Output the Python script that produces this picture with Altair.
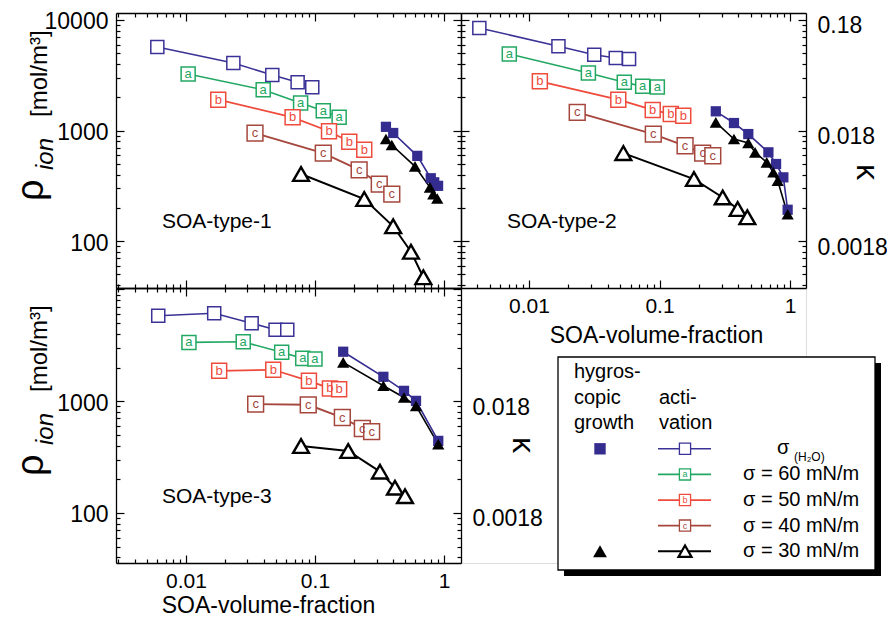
import altair as alt
import pandas as pd

FONT = "Liberation Sans"
W, H = 345, 275          # size of one panel

# ---------------- series definitions ----------------
SERIES = ["σ(H2O)", "σ = 60 mN/m", "σ = 50 mN/m", "σ = 40 mN/m", "σ = 30 mN/m"]
LETTERS = ["", "a", "b", "c", ""]
COLORS = ["#3a3296", "#22a862", "#ef4b3c", "#a5473d", "#000000"]
LINE_WIDTHS = [1.5, 2.0, 1.1, 1.1, 2.0]
OPEN_SIZES = [170, 250, 250, 250]
HYG_KINDS = ["square", "triangle-up"]
HYG_COLORS = ["#352c90", "#000000"]
PANEL_NAMES = ["SOA-type-1", "SOA-type-2", "SOA-type-3"]

# ---------------- data ----------------
# SOA-type-1 (activation, one list per sigma series)
T1_X = [
    [0.0060, 0.0233, 0.0467, 0.0734, 0.0953],
    [0.0104, 0.0397, 0.0774, 0.116, 0.154],
    [0.0178, 0.0671, 0.1285, 0.1845, 0.241],
    [0.0343, 0.116, 0.220, 0.315, 0.394],
    [0.078, 0.241, 0.404, 0.555, 0.692],
]
T1_Y = [
    [5700, 4080, 3180, 2730, 2460],
    [3245, 2340, 1775, 1510, 1316],
    [1900, 1316, 984, 793, 670],
    [949, 625, 441, 328, 266],
    [404, 240, 136, 80, 47],
]
T1_HSQ_X = [0.355, 0.404, 0.621, 0.79, 0.84, 0.90]
T1_HSQ_Y = [1080, 950, 590, 370, 340, 316]
T1_HTR_X = [0.355, 0.394, 0.596, 0.778, 0.826, 0.887]
T1_HTR_Y = [837, 740, 474, 306, 266, 243]

# SOA-type-2
T2_X = [
    [0.00416, 0.0168, 0.0316, 0.0462, 0.0584],
    [0.00706, 0.0285, 0.0537, 0.0743, 0.0962],
    [0.0121, 0.0483, 0.0887, 0.122, 0.152],
    [0.0234, 0.0896, 0.157, 0.214, 0.256],
    [0.0528, 0.1836, 0.305, 0.397, 0.471],
]
T2_Y = [
    [8470, 5780, 4850, 4530, 4440],
    [4920, 3310, 2730, 2510, 2475],
    [2790, 1900, 1535, 1410, 1360],
    [1462, 929, 728, 625, 591],
    [625, 364, 248, 195, 164],
]
T2_HSQ_X = [0.270, 0.372, 0.479, 0.683, 0.782, 0.889, 0.959]
T2_HSQ_Y = [1492, 1169, 929, 635, 498, 377, 192]
T2_HTR_X = [0.270, 0.372, 0.479, 0.540, 0.663, 0.745, 0.805, 0.959]
T2_HTR_Y = [1186, 837, 771, 635, 515, 419, 351, 175]

# SOA-type-3
T3_X = [
    [0.0061, 0.01656, 0.0323, 0.0495, 0.0610],
    [0.01055, 0.0278, 0.0552, 0.0804, 0.100],
    [0.0181, 0.0475, 0.0898, 0.1306, 0.154],
    [0.0347, 0.0887, 0.163, 0.233, 0.275],
    [0.078, 0.181, 0.319, 0.417, 0.499],
]
T3_Y = [
    [5820, 6120, 4980, 4360, 4360],
    [3355, 3400, 2735, 2415, 2380],
    [1870, 1910, 1520, 1300, 1280],
    [940, 928, 714, 569, 534],
    [397, 358, 234, 168, 141],
]
T3_HSQ_X = [0.1655, 0.339, 0.490, 0.607, 0.903]
T3_HSQ_Y = [2770, 1652, 1237, 1006, 441]
T3_HTR_X = [0.1655, 0.339, 0.490, 0.607, 0.903]
T3_HTR_Y = [2223, 1372, 1079, 907, 411]

# axes
X_DOMAIN_A = [0.00287, 1.355]
X_DOMAIN_B = [0.00301, 1.326]
Y_DOMAIN_A = [37.6, 11570]
Y_DOMAIN_B = [35.6, 10300]
RHO_LABELS_TOP = [100, 1000, 10000]
RHO_LABELS_BOTTOM = [100, 1000]
KAPPA_PER_RHO = 1.8e-5

# legend texts
HEAD_HYG = ["hygros-", "copic", "growth"]
HEAD_ACT = ["acti-", "vation"]

# ---------------- helpers ----------------
color_scale = alt.Scale(domain=SERIES, range=COLORS)
width_scale = alt.Scale(domain=SERIES, range=LINE_WIDTHS)
size_scale = alt.Scale(domain=SERIES[:4], range=OPEN_SIZES)
hyg_color_scale = alt.Scale(domain=HYG_KINDS, range=HYG_COLORS)

MAJ = alt.ExprRef(expr="-8")
MIN = alt.ExprRef(expr="-4")


def log_ticks(lo, hi):
    majors, minors = [], []
    for e in range(-4, 6):
        for m in range(1, 10):
            v = float(f"{m * 10.0 ** e:.6g}")
            if lo <= v <= hi:
                (majors if m == 1 else minors).append(v)
    return majors, minors


def tick_axis(orient, values, size, offset, domain=False, label_expr=None, pad=0, title=None,
              font_size=23, **extra):
    kw = dict(orient=orient, values=values, tickSize=size, tickColor="black",
              tickWidth=1.2, domain=domain, grid=False, ticks=True, title=title,
              offset=alt.ExprRef(expr=str(offset)))
    if domain:
        kw.update(domainColor="black", domainWidth=1.3)
    if label_expr is None:
        kw["labels"] = False
    else:
        kw.update(labels=True, labelExpr=label_expr, labelPadding=pad, labelFont=FONT,
                  labelFontSize=font_size, labelColor="black", labelOverlap=False, labelFlush=False)
    kw.update(extra)
    return alt.Axis(**kw)


def text_layer(txt, x, y, **mk):
    return alt.Chart(alt.Data(values=[{"t": txt}])).mark_text(font=FONT, color="black", **mk).encode(
        text="t:N", x=alt.value(x), y=alt.value(y))


def panel(idx, xs_list, ys_list, hsq_x, hsq_y, htr_x, htr_y, xdom, ydom,
          left_labels=None, bottom_title=None, right_labels=None):
    col, row = idx % 2, idx // 2
    ox, oy = col * W, row * H
    rows = []
    for s, name in enumerate(SERIES):
        for xv, yv in zip(xs_list[s], ys_list[s]):
            rows.append({"x": xv, "y": yv, "series": name, "lab": LETTERS[s]})
    df = pd.DataFrame(rows)
    hrows = [{"x": a, "y": b, "kind": HYG_KINDS[0]} for a, b in zip(hsq_x, hsq_y)]
    hrows += [{"x": a, "y": b, "kind": HYG_KINDS[1]} for a, b in zip(htr_x, htr_y)]
    hdf = pd.DataFrame(hrows)

    xs = alt.Scale(type="log", domain=xdom, range=[ox, ox + W], nice=False)
    ys = alt.Scale(type="log", domain=ydom, range=[oy + H, oy], nice=False)
    X = alt.X("x:Q", scale=xs, axis=None)
    Y = alt.Y("y:Q", scale=ys, axis=None)

    base = alt.Chart(df)
    lines = base.mark_line().encode(
        x=X, y=Y, detail="series:N",
        color=alt.Color("series:N", scale=color_scale, legend=None),
        strokeWidth=alt.StrokeWidth("series:N", scale=width_scale, legend=None))
    squares = base.transform_filter(alt.FieldOneOfPredicate(field="series", oneOf=SERIES[:4])).mark_point(
        shape="square", fill="white", fillOpacity=1, opacity=1, strokeWidth=1.5).encode(
        x=X, y=Y,
        stroke=alt.Stroke("series:N", scale=color_scale, legend=None),
        size=alt.Size("series:N", scale=size_scale, legend=None))
    letters = base.transform_filter("datum.lab != ''").mark_text(font=FONT, fontSize=13, baseline="middle").encode(
        x=X, y=Y, text="lab:N",
        color=alt.Color("series:N", scale=color_scale, legend=None))
    tris = base.transform_filter(alt.FieldEqualPredicate(field="series", equal=SERIES[4])).mark_point(
        shape="triangle-up", fill="white", fillOpacity=1, opacity=1, stroke="black",
        strokeWidth=2.4, size=250).encode(x=X, y=Y)

    hbase = alt.Chart(hdf)
    hlines = hbase.mark_line(strokeWidth=1.6).encode(
        x=X, y=Y, detail="kind:N",
        color=alt.Color("kind:N", scale=hyg_color_scale, legend=None))
    hpts = hbase.mark_point(filled=True, opacity=1).encode(
        x=X, y=Y,
        shape=alt.Shape("kind:N", scale=alt.Scale(domain=HYG_KINDS, range=HYG_KINDS), legend=None),
        color=alt.Color("kind:N", scale=hyg_color_scale, legend=None),
        size=alt.Size("kind:N", scale=alt.Scale(domain=HYG_KINDS, range=[105, 150]), legend=None))

    layers = [lines, hlines, squares, letters, tris, hpts,
              text_layer(PANEL_NAMES[idx], ox + 46, oy + 209, fontSize=21, align="left", baseline="middle")]

    # axes (inward ticks, major + minor on every side)
    xmaj, xmin = log_ticks(*xdom)
    ymaj, ymin = log_ticks(*ydom)
    anchor = alt.Chart(df).mark_point(opacity=0)

    def ya(axis):
        return anchor.encode(x=X, y=alt.Y("y:Q", scale=ys, axis=axis))

    def xa(axis):
        return anchor.encode(y=Y, x=alt.X("x:Q", scale=xs, axis=axis))

    off_l, off_r = -ox, -(W - ox)
    off_t, off_b = -oy, -(H - oy)
    if left_labels:
        lexpr = f"indexof({left_labels}, datum.value) >= 0 ? format(datum.value, 'd') : ''"
        layers.append(ya(tick_axis("left", ymaj, MAJ, off_l, True, lexpr, pad=16, labelOffset=2)))
    else:
        layers.append(ya(tick_axis("left", ymaj, MAJ, off_l, True)))
    layers.append(ya(tick_axis("left", ymin, MIN, off_l)))
    if right_labels:
        rexpr = (f"indexof({right_labels}, datum.value) >= 0 ? "
                 f"format(datum.value * {KAPPA_PER_RHO}, '~g') : ''")
        layers.append(ya(tick_axis("right", ymaj, MAJ, off_r, True, rexpr, pad=19, labelOffset=6)))
    else:
        layers.append(ya(tick_axis("right", ymaj, MAJ, off_r, True)))
    layers.append(ya(tick_axis("right", ymin, MIN, off_r)))
    layers.append(xa(tick_axis("top", xmaj, MAJ, off_t, True)))
    layers.append(xa(tick_axis("top", xmin, MIN, off_t)))
    if bottom_title:
        bexpr = "format(datum.value, '~g')"
        tx, ty = bottom_title
        layers.append(xa(tick_axis(
            "bottom", xmaj, MAJ, off_b, True, bexpr, pad=15, title="SOA-volume-fraction",
            font_size=21,
            titleX=tx, titleY=ty, titleAlign="center", titleBaseline="alphabetic",
            titleFont=FONT, titleFontSize=23, titleFontWeight="normal", titleColor="black")))
    else:
        layers.append(xa(tick_axis("bottom", xmaj, MAJ, off_b, True)))
    layers.append(xa(tick_axis("bottom", xmin, MIN, off_b)))
    return layers


def rho_title(oy):
    return [
        text_layer("ρ", -73, oy + 188, fontSize=38, angle=270, align="left", baseline="alphabetic"),
        text_layer("ion", -63, oy + 157, fontSize=24, fontStyle="italic", angle=270,
                   align="left", baseline="alphabetic"),
        text_layer("[mol/m³]", -69, oy + 104, fontSize=24, angle=270, align="left",
                   baseline="alphabetic"),
    ]


def kappa_title(x, y):
    return [text_layer("κ", x, y, fontSize=32, angle=90, align="center", baseline="middle")]


layers = []
layers += panel(0, T1_X, T1_Y, T1_HSQ_X, T1_HSQ_Y, T1_HTR_X, T1_HTR_Y, X_DOMAIN_A, Y_DOMAIN_A,
                left_labels=RHO_LABELS_TOP)
layers += panel(1, T2_X, T2_Y, T2_HSQ_X, T2_HSQ_Y, T2_HTR_X, T2_HTR_Y, X_DOMAIN_B, Y_DOMAIN_A,
                bottom_title=(W + 195, 54), right_labels=RHO_LABELS_TOP)
layers += panel(2, T3_X, T3_Y, T3_HSQ_X, T3_HSQ_Y, T3_HTR_X, T3_HTR_Y, X_DOMAIN_A, Y_DOMAIN_B,
                left_labels=RHO_LABELS_BOTTOM, bottom_title=(152, 49), right_labels=RHO_LABELS_BOTTOM)
layers += rho_title(0) + rho_title(H)
layers += kappa_title(W + 406, 159) + kappa_title(407, H + 157)

# ---------------- legend (bottom-right cell) ----------------
LX, LY0 = W, H                     # origin of the legend cell
ROW0, ROWSTEP = 84, 25.6
leg_y = alt.Scale(domain=[0, 1], range=[LY0 + ROW0, LY0 + ROW0 + ROWSTEP], zero=False, nice=False)
LYE = alt.Y("row:Q", scale=leg_y, axis=None)
leg_df = pd.DataFrame({"series": SERIES, "row": [3, 4, 5, 6, 7], "lab": LETTERS,
                       "text": [""] + SERIES[1:]})
lbase = alt.Chart(leg_df)

shadow = alt.Chart(alt.Data(values=[{"t": 0}])).mark_rect(color="black").encode(
    x=alt.value(LX + 103), x2=alt.value(LX + 420), y=alt.value(LY0 + 75), y2=alt.value(LY0 + 288))
box = alt.Chart(alt.Data(values=[{"t": 0}])).mark_rect(fill="white", stroke="black", strokeWidth=1.3).encode(
    x=alt.value(LX + 97), x2=alt.value(LX + 414), y=alt.value(LY0 + 69), y2=alt.value(LY0 + 282))
leg_lines = lbase.mark_rule().encode(
    x=alt.value(LX + 197), x2=alt.value(LX + 250), y=LYE,
    color=alt.Color("series:N", scale=color_scale, legend=None),
    strokeWidth=alt.StrokeWidth("series:N", scale=width_scale, legend=None))
leg_sq = lbase.transform_filter("datum.row < 7").mark_point(
    shape="square", fill="white", fillOpacity=1, opacity=1, strokeWidth=1.3, size=125).encode(
    x=alt.value(LX + 224), y=LYE, stroke=alt.Stroke("series:N", scale=color_scale, legend=None))
leg_let = lbase.transform_filter("datum.lab != ''").mark_text(font=FONT, fontSize=9, baseline="middle").encode(
    x=alt.value(LX + 224), y=LYE, text="lab:N", color=alt.Color("series:N", scale=color_scale, legend=None))
leg_tri = lbase.transform_filter("datum.row == 7").mark_point(
    shape="triangle-up", fill="white", fillOpacity=1, opacity=1, stroke="black", strokeWidth=2.2,
    size=170).encode(x=alt.value(LX + 224), y=LYE)
leg_txt = lbase.transform_filter("datum.text != ''").mark_text(
    font=FONT, fontSize=20, align="left", baseline="middle", color="black").encode(
    x=alt.value(LX + 282), y=LYE, text="text:N")
hyg_leg_df = pd.DataFrame({"kind": HYG_KINDS, "row": [3, 7]})
leg_hyg = alt.Chart(hyg_leg_df).mark_point(filled=True, opacity=1).encode(
    x=alt.value(LX + 139), y=LYE,
    shape=alt.Shape("kind:N", scale=alt.Scale(domain=HYG_KINDS, range=HYG_KINDS), legend=None),
    color=alt.Color("kind:N", scale=hyg_color_scale, legend=None),
    size=alt.Size("kind:N", scale=alt.Scale(domain=HYG_KINDS, range=[130, 190]), legend=None))
head1 = alt.Chart(pd.DataFrame({"t": HEAD_HYG, "row": [0, 1, 2]})).mark_text(
    font=FONT, fontSize=20, align="left", baseline="middle", color="black").encode(
    x=alt.value(LX + 113), y=LYE, text="t:N")
head2 = alt.Chart(pd.DataFrame({"t": HEAD_ACT, "row": [1, 2]})).mark_text(
    font=FONT, fontSize=20, align="left", baseline="middle", color="black").encode(
    x=alt.value(LX + 198), y=LYE, text="t:N")
sig = text_layer("σ", LX + 316, LY0 + 160, fontSize=20, align="left", baseline="middle")
sig_sub = text_layer("(H₂O)", LX + 333, LY0 + 169, fontSize=12, align="left", baseline="middle")

layers += [shadow, box, leg_lines, leg_sq, leg_let, leg_tri, leg_hyg, leg_txt, head1, head2, sig, sig_sub]

chart = alt.layer(*layers).resolve_scale(
    x="independent", y="independent", color="independent", stroke="independent",
    strokeWidth="independent", size="independent", shape="independent").resolve_axis(
    x="independent", y="independent").properties(
    width=2 * W, height=2 * H,
    autosize=alt.AutoSizeParams(type="none"),
    padding={"left": 108, "top": 5, "right": 81, "bottom": 54}).configure_view(
    stroke=None).configure(font=FONT)

chart.save("out.html", embed_options={"renderer": "svg", "actions": False})
